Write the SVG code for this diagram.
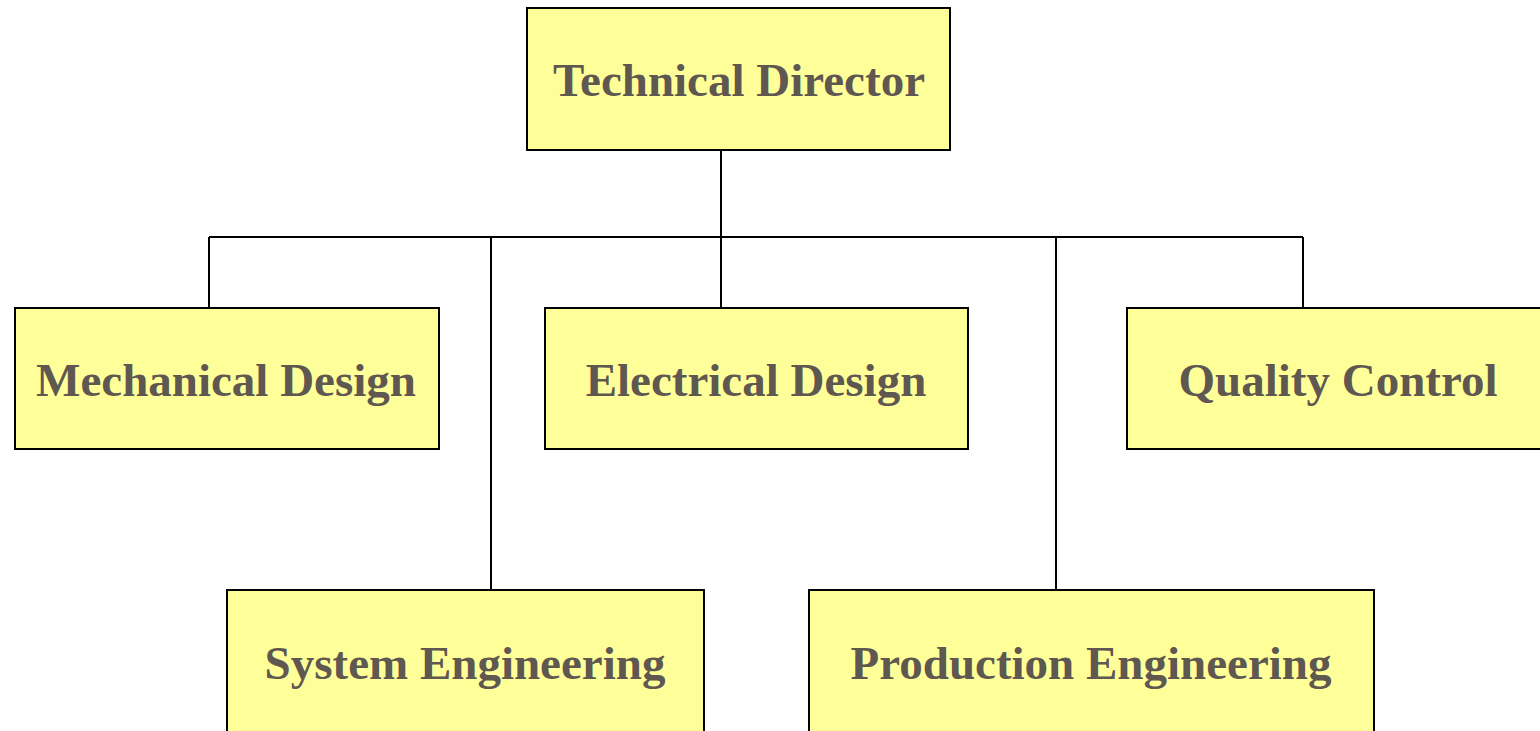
<svg xmlns="http://www.w3.org/2000/svg" width="1540" height="731" viewBox="0 0 1540 731">
<style>
.box{fill:#FFFF99;stroke:#000;stroke-width:2}
.lbl{font-family:"Liberation Serif","Times New Roman",serif;font-weight:bold;font-size:47px;fill:#5F5850;text-anchor:middle}
.conn{stroke:#000;stroke-width:2;fill:none}
</style>
<rect width="1540" height="731" fill="#fff"/>
<g id="connectors">
<path class="conn" d="M721 150V237M209 237H1303M209 237V308M491 237V590M721 237V308M1056 237V590M1303 237V308"/>
</g>
<g id="technical-director"><rect class="box" x="527" y="8" width="423" height="142"/><text class="lbl" x="739" y="96">Technical Director</text></g>
<g id="mechanical-design"><rect class="box" x="15" y="308" width="424" height="141"/><text class="lbl" x="226" y="396">Mechanical Design</text></g>
<g id="electrical-design"><rect class="box" x="545" y="308" width="423" height="141"/><text class="lbl" x="756" y="396">Electrical Design</text></g>
<g id="quality-control"><rect class="box" x="1127" y="308" width="430" height="141"/><text class="lbl" x="1338" y="396">Quality Control</text></g>
<g id="system-engineering"><rect class="box" x="227" y="590" width="477" height="142"/><text class="lbl" x="465" y="679">System Engineering</text></g>
<g id="production-engineering"><rect class="box" x="809" y="590" width="565" height="142"/><text class="lbl" x="1091" y="679">Production Engineering</text></g>
</svg>
